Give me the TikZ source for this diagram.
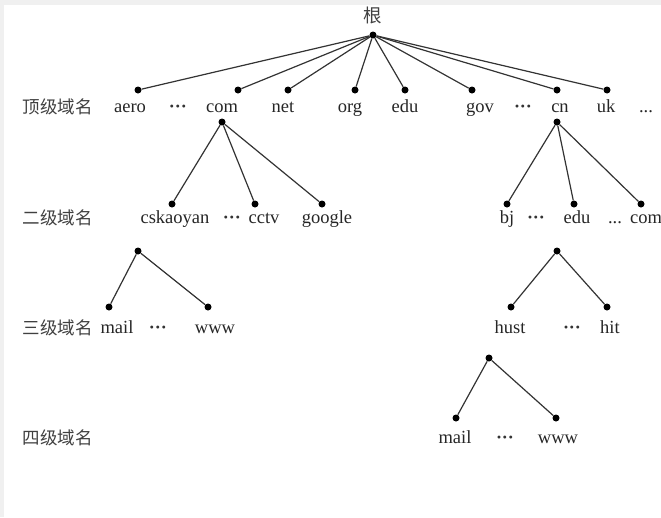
\documentclass[tikz,border=0pt]{standalone}
\usepackage{fontspec}
\setmainfont{Liberation Serif}
\newfontfamily\cjk{Noto Sans CJK SC}
\newcommand{\mydots}{\textperiodcentered\textperiodcentered\textperiodcentered}
\begin{document}
\begin{tikzpicture}[x=1pt,y=-1pt,
  dotn/.style={circle,fill=black,inner sep=0pt,minimum size=7pt},
  lbl/.style={inner sep=0pt,anchor=base,font=\fontsize{18.5}{18.5}\selectfont,text=black!85},
  dts/.style={inner sep=0pt,anchor=base,font=\bfseries\fontsize{18}{18}\selectfont,text=black!80},
  lvl/.style={inner sep=0pt,anchor=base,font=\cjk\fontsize{17.5}{18}\selectfont,text=black!75},
  edge/.style={draw=black!80,line width=1.2pt}]
\useasboundingbox (0,0) rectangle (661,517);
\fill[white] (0,0) rectangle (661,517);
\fill[black!6] (0,0) rectangle (661,5);
\fill[black!6] (0,0) rectangle (4,517);
% root
\node[lvl,font=\cjk\fontsize{18.5}{19}\selectfont] (rootlbl) at (373,22) {根};
\node[dotn] (r) at (373,35) {};
% level labels
\node[lvl] (l1) at (58,113) {顶级域名};
\node[lvl] (l2) at (58,224) {二级域名};
\node[lvl] (l3) at (58,334) {三级域名};
\node[lvl] (l4) at (58,444) {四级域名};
% top-level dots
\node[dotn] (aero) at (138,90) {};
\node[dotn] (com) at (238,90) {};
\node[dotn] (net) at (288,90) {};
\node[dotn] (org) at (355,90) {};
\node[dotn] (edu) at (405,90) {};
\node[dotn] (gov) at (472,90) {};
\node[dotn] (cn) at (557,90) {};
\node[dotn] (uk) at (607,90) {};
\foreach \n in {aero,com,net,org,edu,gov,cn,uk} \draw[edge] (r) -- (\n);
% top-level labels
\node[lbl] (taero) at (130,112) {aero};
\node[dts] (td1) at (178,112) {\mydots};
\node[lbl] (tcom) at (222,112) {com};
\node[lbl] (tnet) at (283,112) {net};
\node[lbl] (torg) at (350,112) {org};
\node[lbl] (tedu) at (405,112) {edu};
\node[lbl] (tgov) at (480,112) {gov};
\node[dts] (td2) at (523,112) {\mydots};
\node[lbl] (tcn) at (560,112) {cn};
\node[lbl] (tuk) at (606,112) {uk};
\node[lbl] (td3) at (646,112) {...};
% second level under com
\node[dotn] (comp) at (222,122) {};
\node[dotn] (csk) at (172,204) {};
\node[dotn] (cctv) at (255,204) {};
\node[dotn] (goog) at (322,204) {};
\foreach \n in {csk,cctv,goog} \draw[edge] (comp) -- (\n);
\node[lbl] (tcsk) at (175,223) {cskaoyan};
\node[dts] (td4) at (232,223) {\mydots};
\node[lbl] (tcctv) at (264,223) {cctv};
\node[lbl] (tgoog) at (327,223) {google};
% second level under cn
\node[dotn] (cnp) at (557,122) {};
\node[dotn] (bj) at (507,204) {};
\node[dotn] (edu2) at (574,204) {};
\node[dotn] (com2) at (641,204) {};
\foreach \n in {bj,edu2,com2} \draw[edge] (cnp) -- (\n);
\node[lbl] (tbj) at (507,223) {bj};
\node[dts] (td5) at (536,223) {\mydots};
\node[lbl] (tedu2) at (577,223) {edu};
\node[lbl] (td6) at (615,223) {...};
\node[lbl,anchor=base west] (tcom2) at (630,223) {com};
% third level under cskaoyan
\node[dotn] (cskp) at (138,251) {};
\node[dotn] (mail1) at (109,307) {};
\node[dotn] (www1) at (208,307) {};
\foreach \n in {mail1,www1} \draw[edge] (cskp) -- (\n);
\node[lbl] (tmail1) at (117,333) {mail};
\node[dts] (td7) at (158,333) {\mydots};
\node[lbl] (twww1) at (215,333) {www};
% third level under edu
\node[dotn] (edup) at (557,251) {};
\node[dotn] (hust) at (511,307) {};
\node[dotn] (hit) at (607,307) {};
\foreach \n in {hust,hit} \draw[edge] (edup) -- (\n);
\node[lbl] (thust) at (510,333) {hust};
\node[dts] (td8) at (572,333) {\mydots};
\node[lbl] (thit) at (610,333) {hit};
% fourth level under hust
\node[dotn] (hustp) at (489,358) {};
\node[dotn] (mail2) at (456,418) {};
\node[dotn] (www2) at (556,418) {};
\foreach \n in {mail2,www2} \draw[edge] (hustp) -- (\n);
\node[lbl] (tmail2) at (455,443) {mail};
\node[dts] (td9) at (505,443) {\mydots};
\node[lbl] (twww2) at (558,443) {www};
\end{tikzpicture}
\end{document}
